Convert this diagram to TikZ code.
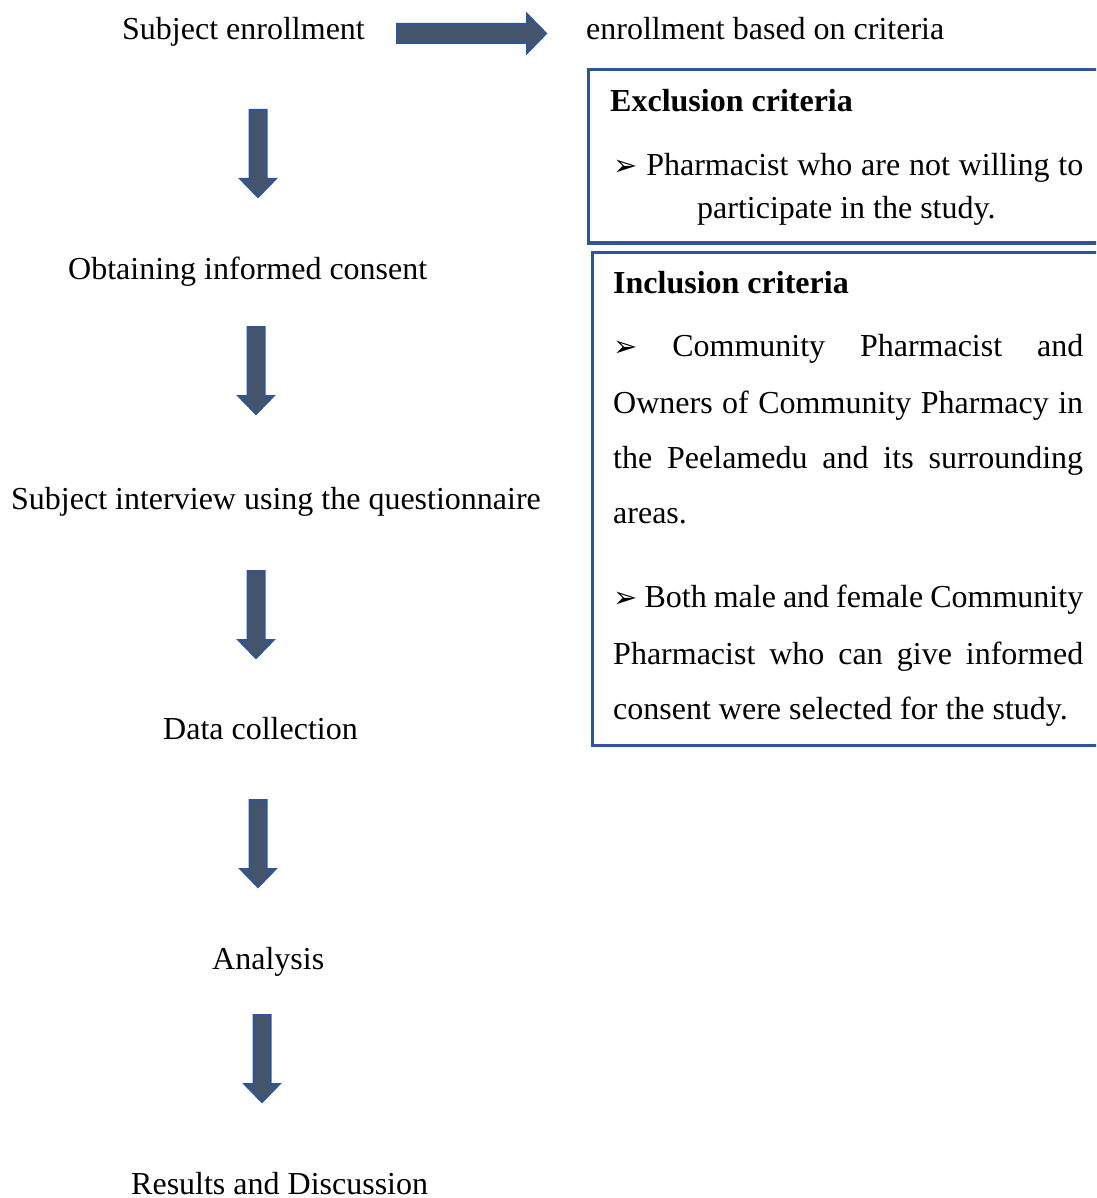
\documentclass[tikz,border=0pt]{standalone}
\usepackage{fontspec}
\setmainfont{Liberation Serif}
\newfontfamily\symfont{DejaVu Sans}
\definecolor{arrfill}{HTML}{44546A}
\definecolor{arrline}{HTML}{2F5597}
\definecolor{boxline}{HTML}{2F5597}
\newcommand\bul{{\symfont\fontsize{29}{29}\selectfont ➢}}
\newcommand\downarr[3]{% name, cx, ytop
  \draw[blockarr] (#2-8.5,#3) -- (#2+8.5,#3) -- (#2+8.5,#3+69) -- (#2+17.5,#3+69)
    -- (#2,#3+87) -- (#2-17.5,#3+69) -- (#2-8.5,#3+69) -- cycle;
  \coordinate (#1) at (#2,#3);}
\tikzset{
  txt/.style={font=\fontsize{32}{38}\selectfont, inner sep=0pt, anchor=base west},
  btxt/.style={txt, font=\fontsize{32}{38}\selectfont\bfseries},
  blockarr/.style={fill=arrfill, draw=arrline, line width=2pt, line join=miter},
  critbox/.style={draw=boxline, line width=3pt}
}
\begin{document}
\begin{tikzpicture}[x=1pt,y=-1pt]
\clip (0,0) rectangle (1096,1198);
\fill[white] (0,0) rectangle (1096,1198);
% left column texts
\node[txt] (s1) at (122,40) {Subject enrollment};
\node[txt] (s2) at (68,279) {Obtaining informed consent};
\node[txt] (s3) at (11,509) {Subject interview using the questionnaire};
\node[txt] (s4) at (163,739) {Data collection};
\node[txt] (s5) at (212,969) {Analysis};
\node[txt] (s6) at (131,1194) {Results and Discussion};
\node[txt] (crit) at (586,40) {enrollment based on criteria};
% right arrow
\draw[blockarr] (397,24) -- (527,24) -- (527,14) -- (546,33.5) -- (527,53) -- (527,43) -- (397,43) -- cycle;
% down arrows
\downarr{a1}{258}{110}
\downarr{a2}{256}{327}
\downarr{a3}{256}{571}
\downarr{a4}{258}{800}
\downarr{a5}{262}{1015}
% exclusion box
\draw[critbox] (588,70) rectangle (1110,243);
\node[btxt] (exh) at (610,112) {Exclusion criteria};
\node[txt] (ex1) at (613,176) {\makebox[470pt][s]{\bul{} Pharmacist who are not willing to}};
\node[txt] (ex2) at (697,219) {participate in the study.};
% inclusion box
\draw[critbox] (592,252) rectangle (1110,745);
\node[btxt] (inh) at (613,293) {Inclusion criteria};
\node[txt] (in1) at (613,356) {\makebox[470pt][s]{\bul{} Community Pharmacist and}};
\node[txt] (in2) at (613,413) {\makebox[470pt][s]{Owners of Community Pharmacy in}};
\node[txt] (in3) at (613,468) {\makebox[470pt][s]{the Peelamedu and its surrounding}};
\node[txt] (in4) at (613,523) {areas.};
\node[txt] (in5) at (613,607) {\makebox[470pt][s]{\bul{} Both male and female Community}};
\node[txt] (in6) at (613,664) {\makebox[470pt][s]{Pharmacist who can give informed}};
\node[txt] (in7) at (613,719) {consent were selected for the study.};
\end{tikzpicture}
\end{document}
